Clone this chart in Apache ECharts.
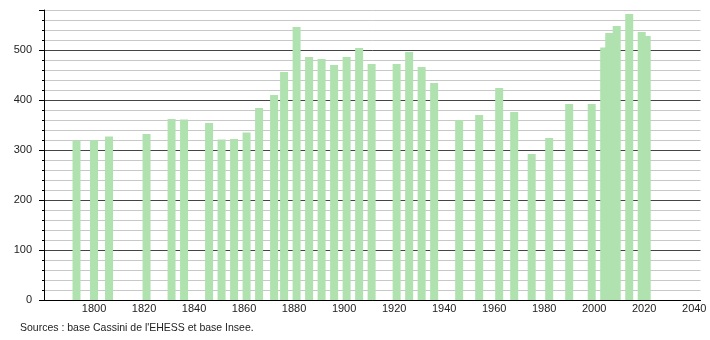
<!DOCTYPE html>
<html><head><meta charset="utf-8">
<script src="https://cdn.jsdelivr.net/npm/echarts@6/dist/echarts.min.js"></script>
<style>html,body{margin:0;padding:0;background:#fff}#c{width:710px;height:340px}</style>
</head><body><div id="c"></div>
<script>
const years = [1793,1800,1806,1821,1831,1836,1846,1851,1856,1861,1866,1872,1876,1881,1886,1891,1896,1901,1906,1911,1921,1926,1931,1936,1946,1954,1962,1968,1975,1982,1990,1999,2004,2006,2009,2014,2019,2021];
const population = [319,320,327,332,362,361,354,321,322,335,384,410,456,546,486,482,470,486,504,472,472,496,466,434,360,370,424,376,292,324,392,392,505,534,548,572,536,528];
const xTickLabels = [1800,1820,1840,1860,1880,1900,1920,1940,1960,1980,2000,2020,2040];
const yTickLabels = [0,100,200,300,400,500];
const sourceText = "Sources : base Cassini de l'EHESS et base Insee.";

const font = 'Liberation Sans, Arial, sans-serif';
const chart = echarts.init(document.getElementById('c'), null, {renderer: 'canvas'});
chart.setOption({
  animation: false,
  grid: {left: 44, right: 9.5, top: 10, bottom: 40},
  xAxis: {
    type: 'value', min: 1780, max: 2042.5, interval: 20,
    axisLine: {show: true, lineStyle: {color: '#000', width: 1}},
    axisTick: {show: false},
    splitLine: {show: false},
    axisLabel: {
      formatter: v => xTickLabels.includes(v) ? String(v) : '',
      color: '#222', fontSize: 11, fontFamily: font, margin: 3
    }
  },
  yAxis: [{
    type: 'value', min: 0, max: 580, interval: 20, position: 'left',
    axisLine: {show: true, lineStyle: {color: '#000', width: 1}},
    axisTick: {show: true, length: 2, lineStyle: {color: '#000'}},
    splitLine: {show: true, lineStyle: {color: ['#444', '#c8c8c8', '#c8c8c8', '#c8c8c8', '#c8c8c8'], width: 1}},
    axisLabel: {
      formatter: v => yTickLabels.includes(v) ? String(v) : '',
      color: '#222', fontSize: 11, fontFamily: font, margin: 12
    }
  }, {
    type: 'value', min: 0, max: 580, interval: 100, position: 'left', offset: 0,
    axisLine: {show: false},
    axisTick: {show: true, length: 5, lineStyle: {color: '#000'}},
    splitLine: {show: false},
    axisLabel: {show: false}
  }],
  series: [{
    type: 'bar', yAxisIndex: 0,
    data: years.map((y, i) => [y, population[i]]),
    barWidth: 8,
    itemStyle: {color: '#b0e2b0'}
  }],
  graphic: [{
    type: 'text', left: 20, top: 323,
    style: {text: sourceText, fontSize: 10.5, fill: '#222', fontFamily: font}
  }]
});
</script>
</body></html>
